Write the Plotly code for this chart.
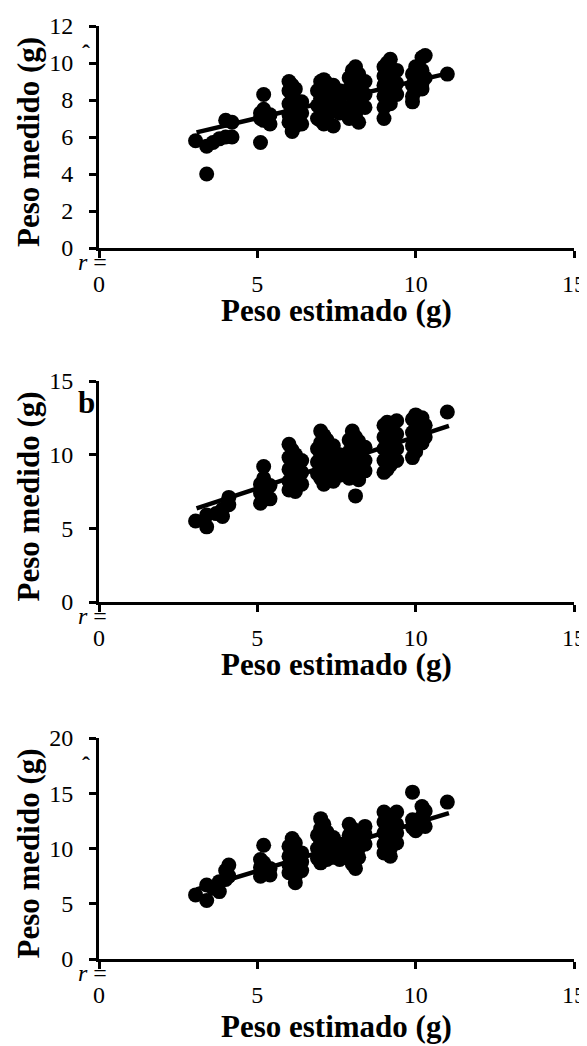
import plotly.graph_objects as go

# ---------------- data ----------------
# Panel a
a_x = [3.05, 3.4, 3.4, 3.6, 3.8, 4.0, 4.0, 4.2, 4.2,
       5.1, 5.1, 5.1, 5.2, 5.2, 5.2, 5.4, 5.4,
       6.0, 6.0, 6.0, 6.0, 6.0, 6.1, 6.1, 6.1, 6.1, 6.1, 6.2, 6.2, 6.2, 6.2, 6.4, 6.4, 6.4,
       6.9, 6.9, 6.9, 7.0, 7.0, 7.0, 7.0, 7.0, 7.1, 7.1, 7.1, 7.1, 7.1, 7.2, 7.2, 7.2, 7.2,
       7.4, 7.4, 7.4, 7.4, 7.6, 7.6, 7.6,
       7.9, 7.9, 7.9, 7.9, 8.0, 8.0, 8.0, 8.0, 8.1, 8.1, 8.1, 8.1, 8.1, 8.2, 8.2, 8.2, 8.2,
       8.4, 8.4, 8.4,
       9.0, 9.0, 9.0, 9.0, 9.0, 9.0, 9.1, 9.1, 9.1, 9.1, 9.2, 9.2, 9.2, 9.2, 9.4, 9.4, 9.4,
       9.9, 9.9, 9.9, 9.9, 10.0, 10.0, 10.0, 10.2, 10.2, 10.2, 10.2, 10.3, 10.3, 11.0]
a_y = [5.8, 4.0, 5.5, 5.7, 5.9, 6.0, 6.9, 6.0, 6.8,
       5.7, 7.0, 7.3, 7.5, 8.3, 6.9, 6.7, 7.2,
       9.0, 8.5, 7.8, 7.2, 6.8, 8.8, 8.2, 7.6, 7.0, 6.3, 8.6, 8.0, 7.4, 6.6, 7.9, 7.3, 6.7,
       8.5, 7.7, 7.0, 9.0, 8.7, 8.1, 7.5, 6.9, 9.1, 8.4, 7.8, 7.2, 6.7, 8.9, 8.2, 7.6, 7.0,
       8.8, 8.0, 7.4, 6.6, 8.5, 7.9, 7.3,
       9.2, 8.6, 7.6, 7.0, 9.6, 8.9, 8.2, 7.4, 9.8, 9.1, 8.5, 7.8, 7.2, 9.4, 8.7, 8.0, 6.8,
       9.0, 8.3, 7.6,
       9.8, 9.3, 8.8, 8.2, 7.6, 7.0, 10.0, 9.5, 8.6, 8.0, 10.2, 9.1, 8.4, 7.8, 9.6, 8.9, 8.3,
       9.4, 8.8, 8.2, 7.9, 9.8, 9.0, 8.5, 10.3, 9.6, 8.9, 8.6, 10.4, 9.2, 9.4]
a_fit_x = [3.08, 11.05]
a_fit_y = [6.25, 9.45]

# Panel b
b_x = [3.05, 3.4, 3.4, 3.7, 3.9, 3.9, 4.1, 4.1,
       5.1, 5.1, 5.1, 5.2, 5.2, 5.2, 5.4, 5.4,
       6.0, 6.0, 6.0, 6.0, 6.0, 6.1, 6.1, 6.1, 6.1, 6.2, 6.2, 6.2, 6.2, 6.4, 6.4, 6.4,
       6.9, 6.9, 6.9, 7.0, 7.0, 7.0, 7.0, 7.0, 7.1, 7.1, 7.1, 7.1, 7.1, 7.2, 7.2, 7.2, 7.2,
       7.4, 7.4, 7.4, 7.4, 7.6, 7.6, 7.6,
       7.9, 7.9, 7.9, 7.9, 8.0, 8.0, 8.0, 8.0, 8.1, 8.1, 8.1, 8.1, 8.1, 8.2, 8.2, 8.2, 8.2,
       8.4, 8.4, 8.4,
       9.0, 9.0, 9.0, 9.0, 9.0, 9.1, 9.1, 9.1, 9.1, 9.1, 9.2, 9.2, 9.2, 9.2, 9.4, 9.4, 9.4, 9.4,
       9.9, 9.9, 9.9, 9.9, 10.0, 10.0, 10.0, 10.0, 10.2, 10.2, 10.2, 10.3, 10.3, 11.0]
b_y = [5.5, 5.1, 5.9, 6.0, 5.8, 6.3, 6.6, 7.1,
       6.7, 7.4, 8.0, 9.2, 8.4, 7.7, 7.0, 7.9,
       10.7, 9.8, 9.0, 8.2, 7.6, 10.3, 9.4, 8.6, 7.9, 10.0, 9.2, 8.4, 7.5, 9.6, 8.8, 8.0,
       10.4, 9.5, 8.7, 11.6, 10.8, 10.0, 9.2, 8.4, 11.3, 10.4, 9.6, 8.8, 8.0, 11.0, 10.2, 9.4, 8.6,
       10.6, 9.8, 9.0, 8.2, 10.0, 9.2, 8.6,
       11.0, 10.2, 9.2, 8.4, 11.6, 10.6, 9.8, 8.8, 11.2, 10.4, 9.5, 8.6, 7.2, 10.9, 10.0, 9.0, 8.3,
       10.5, 9.6, 8.9,
       12.0, 11.2, 10.4, 9.6, 8.8, 12.2, 11.5, 10.7, 9.9, 9.0, 11.8, 11.0, 10.2, 9.3, 12.3, 11.4, 10.4, 9.6,
       12.4, 11.5, 10.6, 9.8, 12.7, 11.8, 11.0, 10.2, 12.5, 11.6, 10.8, 12.0, 11.2, 12.9]
b_fit_x = [3.08, 11.05]
b_fit_y = [6.36, 11.95]

# Panel c
c_x = [3.05, 3.4, 3.4, 3.6, 3.8, 3.8, 4.0, 4.0, 4.1, 4.1,
       5.1, 5.1, 5.1, 5.2, 5.2, 5.2, 5.4, 5.4,
       6.0, 6.0, 6.0, 6.0, 6.1, 6.1, 6.1, 6.1, 6.2, 6.2, 6.2, 6.2, 6.4, 6.4, 6.4,
       6.9, 6.9, 6.9, 7.0, 7.0, 7.0, 7.0, 7.0, 7.1, 7.1, 7.1, 7.1, 7.2, 7.2, 7.2, 7.2,
       7.4, 7.4, 7.4, 7.6, 7.6, 7.6,
       7.9, 7.9, 7.9, 7.9, 8.0, 8.0, 8.0, 8.0, 8.1, 8.1, 8.1, 8.1, 8.2, 8.2, 8.2,
       8.4, 8.4, 8.4,
       9.0, 9.0, 9.0, 9.0, 9.0, 9.1, 9.1, 9.1, 9.1, 9.2, 9.2, 9.2, 9.2, 9.2, 9.4, 9.4, 9.4, 9.4,
       9.9, 9.9, 9.9, 10.0, 10.0, 10.2, 10.2, 10.2, 10.3, 10.3, 11.0]
c_y = [5.8, 5.3, 6.7, 6.4, 6.1, 7.0, 7.2, 8.0, 8.5, 7.5,
       7.5, 8.3, 9.0, 10.3, 8.7, 7.8, 7.6, 8.2,
       10.2, 9.3, 8.5, 7.8, 10.9, 9.8, 9.0, 8.2, 10.5, 9.5, 7.5, 6.9, 9.6, 8.8, 8.0,
       11.2, 10.0, 9.1, 12.7, 11.8, 10.6, 9.6, 8.7, 12.2, 11.0, 10.2, 9.4, 11.5, 10.6, 9.8, 9.0,
       11.0, 10.0, 9.2, 10.4, 9.6, 9.0,
       12.2, 11.2, 10.2, 9.4, 11.8, 10.8, 9.8, 8.6, 11.5, 10.5, 9.5, 8.2, 11.0, 10.0, 9.2,
       12.0, 11.3, 10.4,
       13.3, 12.4, 11.4, 10.4, 9.6, 12.8, 11.8, 10.8, 9.9, 13.0, 12.0, 11.0, 10.0, 9.3, 13.3, 12.2, 11.4, 10.5,
       15.1, 12.6, 11.9, 12.2, 11.6, 13.8, 12.9, 12.4, 13.4, 12.0, 14.2]
c_fit_x = [3.08, 11.05]
c_fit_y = [6.3, 13.2]

x_ticks = [0, 5, 10, 15]
a_yticks = [0, 2, 4, 6, 8, 10, 12]
b_yticks = [0, 5, 10, 15]
c_yticks = [0, 5, 10, 15, 20]
x_title = "Peso estimado (g)"
y_title = "Peso medido (g)"
panel_letters = ["ˆ", "b", "ˆ"]

# ---------------- layout geometry (screen pixels) ----------------
OFF = 8                      # page body margin of the html page
W, H = 587 - OFF, 1046 - OFF
XL, XR = 99, 574
panels = [  # (top px, bottom px, ymax, yticks, xs, ys, fitx, fity, x-title offset)
    (26, 248, 12, a_yticks, a_x, a_y, a_fit_x, a_fit_y, 62),
    (381, 602, 15, b_yticks, b_x, b_y, b_fit_x, b_fit_y, 62),
    (738, 959, 20, c_yticks, c_x, c_y, c_fit_x, c_fit_y, 67),
]

def py(p):  # screen pixel y (from top) -> paper
    return 1 - (p - OFF) / H

def px(p):
    return (p - OFF) / W

FONT = "Liberation Serif, Times New Roman, serif"
fig = go.Figure()
annotations = []
layout = dict(
    template="none",
    width=W, height=H, margin=dict(l=0, r=0, t=0, b=0, pad=0, autoexpand=False),
    paper_bgcolor="white", plot_bgcolor="white", showlegend=False,
    font=dict(family=FONT, color="black", size=24),
)

for i, (top, bot, ymax, yt, xs, ys, fx, fy, toff) in enumerate(panels):
    n = "" if i == 0 else str(i + 1)
    xa, ya = "x" + n, "y" + n
    fig.add_trace(go.Scatter(x=fx, y=fy, mode="lines", xaxis=xa, yaxis=ya,
                             line=dict(color="black", width=4.5), hoverinfo="skip"))
    fig.add_trace(go.Scatter(x=xs, y=ys, mode="markers", xaxis=xa, yaxis=ya,
                             marker=dict(color="black", size=15, line=dict(width=0))))
    axis_common = dict(showline=True, linecolor="black", linewidth=3, ticks="outside",
                       ticklen=7, tickwidth=2.5, tickcolor="black", showgrid=False,
                       zeroline=False, automargin=False,
                       tickfont=dict(family=FONT, size=24, color="black"))
    layout["xaxis" + n] = dict(axis_common, range=[0, 15], tickvals=x_ticks,
                               domain=[px(XL), px(XR)], anchor=ya,
                               ticklabelstandoff=5)
    layout["yaxis" + n] = dict(axis_common, range=[0, ymax], tickvals=yt,
                               domain=[py(bot), py(top)], anchor=xa,
                               ticklabelstandoff=11)
    # axis titles
    annotations.append(dict(text="<b>%s</b>" % x_title, xref="paper", yref="paper",
                            x=px((XL + XR) / 2), y=py(bot + toff), xanchor="center",
                            yanchor="middle", showarrow=False,
                            font=dict(family=FONT, size=31, color="black")))
    annotations.append(dict(text="<b>%s</b>" % y_title, xref="paper", yref="paper",
                            x=px(28), y=py((top + bot) / 2 + 5), xanchor="center",
                            yanchor="middle", textangle=-90, showarrow=False,
                            font=dict(family=FONT, size=31, color="black")))
    # "r =" remnant near the origin
    annotations.append(dict(text="<i>r</i> =", xref="paper", yref="paper",
                            x=px(92.5), y=py(bot + 14), xanchor="center",
                            yanchor="middle", showarrow=False,
                            font=dict(family=FONT, size=24, color="black")))
    # panel letter
    if panel_letters[i] == "b":
        annotations.append(dict(text="<b>b</b>", xref="paper", yref="paper",
                                x=px(86), y=py(top + 21), xanchor="center",
                                yanchor="middle", showarrow=False,
                                font=dict(family=FONT, size=31, color="black")))
    else:
        annotations.append(dict(text="<b>%s</b>" % panel_letters[i], xref="paper", yref="paper",
                                x=px(86), y=py(top + 27), xanchor="center",
                                yanchor="middle", showarrow=False,
                                font=dict(family=FONT, size=24, color="black")))

layout["annotations"] = annotations
fig.update_layout(**layout)
fig.write_html("out.html")
